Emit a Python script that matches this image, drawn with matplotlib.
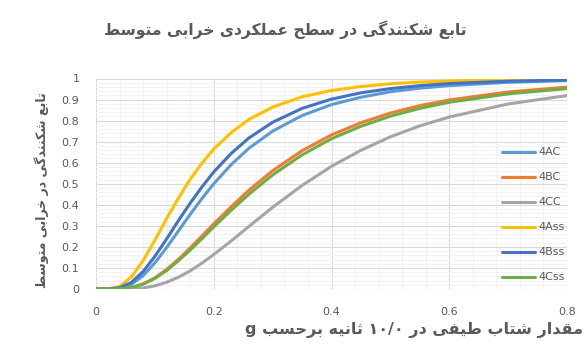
#!/usr/bin/env python3
import matplotlib
matplotlib.use("Agg")
import matplotlib.pyplot as plt
from matplotlib.ticker import MultipleLocator

plt.rcParams['font.family'] = ['DejaVu Sans', 'Noto Sans']

# spectral acceleration (g) and fragility values
sa = [0, 0.02, 0.04, 0.06, 0.08, 0.10, 0.12, 0.14, 0.16, 0.18, 0.20, 0.23,
      0.26, 0.30, 0.35, 0.40, 0.45, 0.50, 0.55, 0.60, 0.70, 0.80]

p_4ac = [0, 0.0001, 0.004, 0.022, 0.063, 0.124, 0.197, 0.276, 0.355, 0.430, 0.500, 0.592,
         0.669, 0.750, 0.824, 0.876, 0.911, 0.937, 0.954, 0.966, 0.982, 0.990]
p_4bc = [0, 0.0, 0.001, 0.007, 0.024, 0.053, 0.093, 0.141, 0.195, 0.252, 0.309, 0.392,
         0.470, 0.562, 0.657, 0.732, 0.790, 0.836, 0.871, 0.898, 0.936, 0.959]
p_4cc = [0, 0.0, 0.0001, 0.001, 0.005, 0.015, 0.032, 0.056, 0.086, 0.123, 0.164, 0.229,
         0.298, 0.388, 0.492, 0.583, 0.659, 0.723, 0.775, 0.817, 0.879, 0.919]
p_4ass = [0, 0.0003, 0.012, 0.057, 0.135, 0.232, 0.335, 0.432, 0.521, 0.598, 0.665, 0.744,
          0.806, 0.864, 0.913, 0.943, 0.962, 0.975, 0.983, 0.988, 0.994, 0.997]
p_4bss = [0, 0.0001, 0.006, 0.031, 0.083, 0.155, 0.238, 0.325, 0.408, 0.485, 0.556, 0.645,
          0.718, 0.792, 0.858, 0.902, 0.932, 0.952, 0.966, 0.976, 0.987, 0.993]
p_4css = [0, 0.0, 0.001, 0.007, 0.023, 0.050, 0.088, 0.134, 0.185, 0.239, 0.295, 0.375,
          0.451, 0.542, 0.637, 0.714, 0.773, 0.821, 0.858, 0.887, 0.927, 0.952]

names = ['4AC', '4BC', '4CC', '4Ass', '4Bss', '4Css']
colors = ['#5B9BD5', '#ED7D31', '#A5A5A5', '#FFC000', '#4472C4', '#70AD47']

xticks = [0, 0.2, 0.4, 0.6, 0.8]
xticklabels = ['0', '0.2', '0.4', '0.6', '0.8']
yticks = [0, 0.1, 0.2, 0.3, 0.4, 0.5, 0.6, 0.7, 0.8, 0.9, 1.0]
yticklabels = ['0', '0.1', '0.2', '0.3', '0.4', '0.5', '0.6', '0.7', '0.8', '0.9', '1']

title = 'تابع شکنندگی در سطح عملکردی خرابی متوسط'
xlabel = 'مقدار شتاب طیفی در ۰/۰۱ ثانیه برحسب g'
ylabel = 'تابع شکنندگی در خرابی متوسط'

# Arabic/Persian letter forms: isolated, final, initial, medial
FORMS = {
    'ا': '\uFE8D\uFE8E', 'ب': '\uFE8F\uFE90\uFE91\uFE92', 'پ': '\uFB56\uFB57\uFB58\uFB59',
    'ت': '\uFE95\uFE96\uFE97\uFE98', 'ث': '\uFE99\uFE9A\uFE9B\uFE9C',
    'ج': '\uFE9D\uFE9E\uFE9F\uFEA0', 'ح': '\uFEA1\uFEA2\uFEA3\uFEA4',
    'خ': '\uFEA5\uFEA6\uFEA7\uFEA8', 'د': '\uFEA9\uFEAA', 'ذ': '\uFEAB\uFEAC',
    'ر': '\uFEAD\uFEAE', 'ز': '\uFEAF\uFEB0', 'ژ': '\uFB8A\uFB8B',
    'س': '\uFEB1\uFEB2\uFEB3\uFEB4', 'ش': '\uFEB5\uFEB6\uFEB7\uFEB8',
    'ص': '\uFEB9\uFEBA\uFEBB\uFEBC', 'ط': '\uFEC1\uFEC2\uFEC3\uFEC4',
    'ع': '\uFEC9\uFECA\uFECB\uFECC', 'غ': '\uFECD\uFECE\uFECF\uFED0',
    'ف': '\uFED1\uFED2\uFED3\uFED4', 'ق': '\uFED5\uFED6\uFED7\uFED8',
    'ک': '\uFB8E\uFB8F\uFB90\uFB91', 'گ': '\uFB92\uFB93\uFB94\uFB95',
    'ل': '\uFEDD\uFEDE\uFEDF\uFEE0', 'م': '\uFEE1\uFEE2\uFEE3\uFEE4',
    'ن': '\uFEE5\uFEE6\uFEE7\uFEE8', 'و': '\uFEED\uFEEE',
    'ه': '\uFEE9\uFEEA\uFEEB\uFEEC', 'ی': '\uFBFC\uFBFD\uFBFE\uFBFF',
}


def shape_word(w):
    out = []
    for i, c in enumerate(w):
        if c not in FORMS:
            out.append(c)
            continue
        prev = w[i - 1] if i > 0 else None
        nxt = w[i + 1] if i + 1 < len(w) else None
        jp = prev in FORMS and len(FORMS[prev]) == 4
        jn = nxt in FORMS and len(FORMS[c]) == 4
        f = FORMS[c]
        if jp and jn:
            out.append(f[3])
        elif jp:
            out.append(f[1])
        elif jn:
            out.append(f[2])
        else:
            out.append(f[0])
    return ''.join(reversed(out))


def rtl(s):
    # matplotlib draws glyphs left to right, so lay the words out right to left by hand
    return ' '.join(shape_word(w) for w in reversed(s.split()))


fig = plt.figure(figsize=(5.88, 3.6), dpi=100)
ax = fig.add_axes([96 / 588, 1 - 289 / 360, 471 / 588, 210.5 / 360])

series = [p_4ac, p_4bc, p_4cc, p_4ass, p_4bss, p_4css]
for ys, name, c in zip(series, names, colors):
    ax.plot(sa, ys, color=c, lw=2.2, label=name, solid_capstyle='round', zorder=3)

ax.set_xlim(0, 0.8)
ax.set_ylim(0, 1)
ax.set_xticks(xticks)
ax.set_xticklabels(xticklabels)
ax.set_yticks(yticks)
ax.set_yticklabels(yticklabels)
ax.xaxis.set_minor_locator(MultipleLocator(0.04))
ax.yaxis.set_minor_locator(MultipleLocator(0.02))
ax.grid(which='major', color='#D9D9D9', lw=0.8, zorder=0)
ax.grid(which='minor', color='#F2F2F2', lw=0.8, zorder=0)
ax.set_axisbelow(True)
for s in ax.spines.values():
    s.set_visible(False)
ax.tick_params(which='both', length=0, labelsize=8, labelcolor='#595959')
ax.tick_params(axis='x', pad=13)
ax.tick_params(axis='y', pad=12)

ax.legend(loc='center left', bbox_to_anchor=(0.85, 0.352), frameon=False, fontsize=8,
          labelspacing=1.35, handlelength=3.0, handletextpad=0.3, borderpad=0,
          labelcolor='#595959')

fig.text(0.485, 0.917, rtl(title), ha='center', va='center', fontsize=11.2,
         fontweight='bold', color='#595959')
fig.text(583 / 588, 0.083, rtl(xlabel), ha='right', va='center', fontsize=11.5,
         fontweight='bold', color='#595959')
fig.text(0.071, 1 - 190 / 360, rtl(ylabel), ha='center', va='center', fontsize=9,
         fontweight='bold', color='#595959', rotation=90)

fig.savefig('out.png', dpi=100)
